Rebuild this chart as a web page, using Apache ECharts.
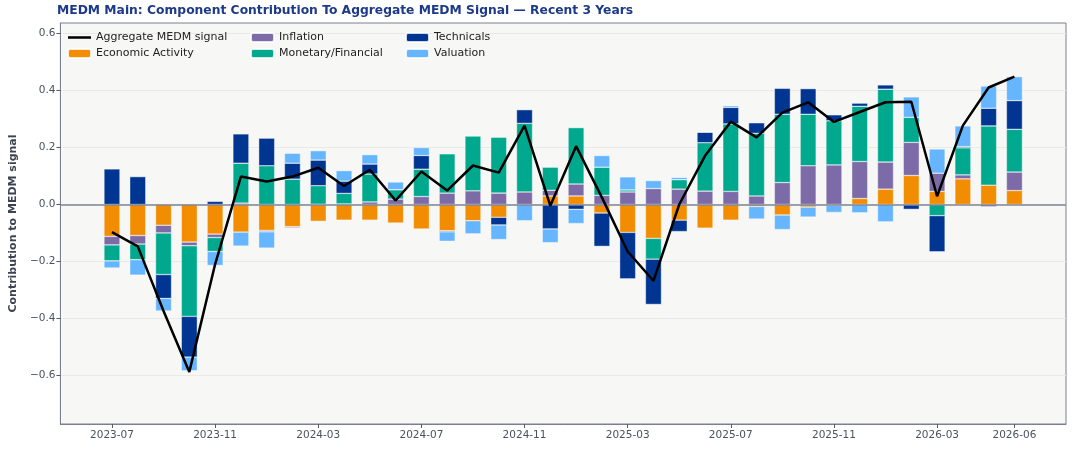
<!DOCTYPE html>
<html>
<head>
<meta charset="utf-8">
<script src="https://cdn.jsdelivr.net/npm/echarts@6/dist/echarts.min.js"></script>
<style>
html,body{margin:0;padding:0;background:#ffffff;}
#chart{width:1076px;height:451px;}
</style>
</head>
<body>
<div id="chart"></div>
<script>
const months = ['2023-07','2023-08','2023-09','2023-10','2023-11','2023-12','2024-01','2024-02','2024-03','2024-04','2024-05','2024-06','2024-07','2024-08','2024-09','2024-10','2024-11','2024-12','2025-01','2025-02','2025-03','2025-04','2025-05','2025-06','2025-07','2025-08','2025-09','2025-10','2025-11','2025-12','2026-01','2026-02','2026-03','2026-04','2026-05','2026-06'];
const tickMonths = ['2023-07','2023-11','2024-03','2024-07','2024-11','2025-03','2025-07','2025-11','2026-03','2026-06'];
const yTicks = [-0.6,-0.4,-0.2,0.0,0.2,0.4,0.6];

const economicActivity = [-0.112,-0.109,-0.073,-0.132,-0.104,-0.097,-0.091,-0.078,-0.059,-0.055,-0.055,-0.065,-0.086,-0.092,-0.057,-0.045,0.0,0.030,0.030,-0.030,-0.098,-0.119,-0.055,-0.083,-0.055,-0.007,-0.037,-0.009,-0.003,0.021,0.054,0.102,0.046,0.090,0.068,0.049];
const inflation = [-0.030,-0.030,-0.027,-0.013,-0.012,0.005,-0.005,-0.004,0.001,0.002,0.009,0.019,0.028,0.040,0.048,0.040,0.044,0.020,0.042,0.032,0.044,0.056,0.054,0.047,0.046,0.030,0.077,0.136,0.139,0.130,0.095,0.116,0.064,0.014,-0.008,0.065];
const monetaryFinancial = [-0.056,-0.055,-0.146,-0.248,-0.049,0.140,0.136,0.089,0.065,0.037,0.098,0.033,0.096,0.138,0.193,0.196,0.241,0.081,0.198,0.099,0.007,-0.073,0.033,0.170,0.237,0.220,0.240,0.181,0.155,0.194,0.256,0.088,-0.039,0.095,0.208,0.150];
const technicals = [0.125,0.098,-0.084,-0.143,0.011,0.103,0.097,0.056,0.090,0.043,0.035,0.0,0.048,-0.004,0.0,-0.027,0.048,-0.086,-0.017,-0.117,-0.163,-0.159,-0.040,0.037,0.058,0.037,0.091,0.090,0.021,0.011,0.015,-0.017,-0.127,0.004,0.062,0.101];
const valuation = [-0.025,-0.054,-0.044,-0.048,-0.049,-0.049,-0.057,0.035,0.033,0.037,0.033,0.027,0.028,-0.033,-0.046,-0.051,-0.057,-0.048,-0.050,0.041,0.046,0.028,0.008,0.0,0.006,-0.044,-0.051,-0.035,-0.025,-0.029,-0.061,0.072,0.085,0.073,0.078,0.084];
const aggregate = [-0.097,-0.147,-0.374,-0.588,-0.210,0.098,0.081,0.098,0.129,0.065,0.122,0.014,0.116,0.049,0.137,0.112,0.277,-0.004,0.205,0.025,-0.165,-0.268,0.000,0.171,0.291,0.236,0.323,0.359,0.290,0.325,0.359,0.361,0.029,0.277,0.411,0.449];

const FONT = 'DejaVu Sans';
// empty padding slots so the axis extends past the first/last month like the original
const axisCats = ['_p0', '_p1'].concat(months, ['_p2', '_p3']);
const toXY = arr => arr.map((v, i) => [months[i], v]);

const comps = [
  {name: 'Economic Activity', data: economicActivity, color: '#F28C00'},
  {name: 'Inflation', data: inflation, color: '#7C6BA6'},
  {name: 'Monetary/Financial', data: monetaryFinancial, color: '#00A88E'},
  {name: 'Technicals', data: technicals, color: '#003591'},
  {name: 'Valuation', data: valuation, color: '#66B5FF'}
];

const barSeries = comps.map((c, k) => {
  const s = {
    name: c.name,
    type: 'bar',
    stack: 'total',
    stackStrategy: 'samesign',
    barWidth: 16,
    data: toXY(c.data),
    itemStyle: {color: c.color, borderColor: 'rgba(255,255,255,0.8)', borderWidth: 0.5},
    emphasis: {disabled: true},
    z: 2
  };
  if (k === comps.length - 1) {
    s.markLine = {
      silent: true,
      symbol: 'none',
      label: {show: false},
      lineStyle: {color: '#7f8594', width: 1.6, type: 'solid'},
      data: [{yAxis: 0}],
      animation: false
    };
  }
  return s;
});

const isTick = (idx, val) => tickMonths.indexOf(val) >= 0;

const chart = echarts.init(document.getElementById('chart'), null, {renderer: 'canvas'});
const legendText = {fontFamily: FONT, fontSize: 11, color: '#222222'};
const legendCommon = {
  orient: 'vertical', top: 32, itemWidth: 23, itemHeight: 9, itemGap: 5,
  textStyle: legendText, selectedMode: false, padding: 0
};
chart.setOption({
  animation: false,
  backgroundColor: '#ffffff',
  title: {
    text: 'MEDM Main: Component Contribution To Aggregate MEDM Signal \u2014 Recent 3 Years',
    left: 57, top: 5, padding: 0,
    textStyle: {fontFamily: FONT, fontSize: 12.3, fontWeight: 'bold', color: '#1d3a8a'}
  },
  legend: [
    Object.assign({left: 67, data: [
      {name: 'Aggregate MEDM signal', icon: 'path://M0,0H100V11H0Z', itemStyle: {color: '#000000'}},
      'Economic Activity'
    ]}, legendCommon),
    Object.assign({left: 250, data: ['Inflation', 'Monetary/Financial']}, legendCommon),
    Object.assign({left: 405, data: ['Technicals', 'Valuation']}, legendCommon)
  ],
  grid: {
    left: 57, right: 10, top: 23, bottom: 27,
    show: true, backgroundColor: '#f7f7f5', borderColor: '#7a8090', borderWidth: 1
  },
  xAxis: {
    type: 'category', data: axisCats, boundaryGap: false,
    axisLine: {show: true, onZero: false, lineStyle: {color: '#7a8090', width: 1}},
    axisTick: {show: true, length: 4, interval: isTick, lineStyle: {color: '#555b66'}},
    axisLabel: {
      interval: isTick, margin: 6,
      fontFamily: FONT, fontSize: 10.5, color: '#4a5160'
    },
    splitLine: {show: false}
  },
  yAxis: {
    type: 'value', min: -0.771, max: 0.6375,
    name: 'Contribution to MEDM signal', nameLocation: 'middle', nameGap: 38,
    nameTextStyle: {fontFamily: FONT, fontSize: 11, fontWeight: 'bold', color: '#3d4451'},
    axisLine: {show: true, onZero: false, lineStyle: {color: '#7a8090', width: 1}},
    axisTick: {show: true, length: 4, customValues: yTicks, lineStyle: {color: '#555b66'}},
    axisLabel: {
      customValues: yTicks, margin: 5,
      fontFamily: FONT, fontSize: 10.5, color: '#4a5160',
      formatter: v => (v < 0 ? '\u2212' : '') + Math.abs(v).toFixed(1)
    },
    splitLine: {show: true, customValues: yTicks, lineStyle: {color: '#e9e9e6', width: 1}}
  },
  series: barSeries.concat([{
    name: 'Aggregate MEDM signal',
    type: 'line',
    data: toXY(aggregate),
    symbol: 'none',
    showSymbol: false,
    lineStyle: {color: '#000000', width: 2.5},
    itemStyle: {color: '#000000'},
    emphasis: {disabled: true},
    z: 5
  }])
});
</script>
</body>
</html>
